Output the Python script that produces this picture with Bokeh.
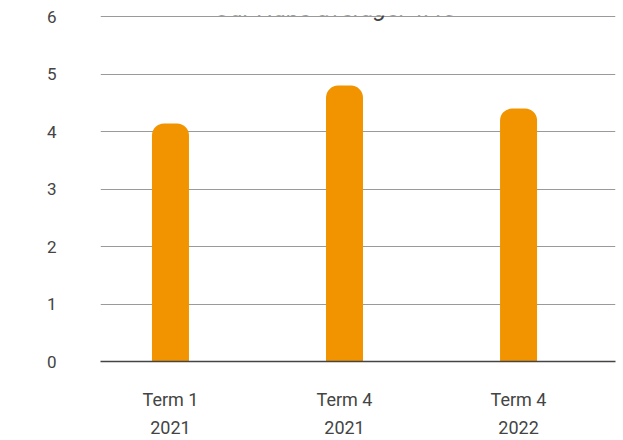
from bokeh.plotting import figure
from bokeh.models import ColumnDataSource, Range1d, FixedTicker, Label
from bokeh.embed import file_html
from bokeh.resources import INLINE

categories = ["Term 1\n2021", "Term 4\n2021", "Term 4\n2022"]
scores = [4.14, 4.80, 4.40]
y_ticks = [0, 1, 2, 3, 4, 5, 6]
subtitle = "Our Hubs average: 4.45"

xs = list(range(len(categories)))
src = ColumnDataSource(dict(x=xs, top=scores))

p = figure(width=623, height=440, output_backend="svg", toolbar_location=None,
           x_range=Range1d(-0.402, 2.557), y_range=Range1d(0, 6.02),
           min_border_left=100, min_border_right=8, min_border_top=15, min_border_bottom=78)
p.outline_line_color = None
p.background_fill_color = "white"
p.border_fill_color = "white"

p.vbar(x="x", top="top", bottom=0, width=37 / 174, source=src,
       fill_color="#F29300", line_color=None, border_radius=(12, 12, 0, 0))

p.yaxis.ticker = FixedTicker(ticks=y_ticks)
p.ygrid.ticker = FixedTicker(ticks=y_ticks[1:])
p.ygrid.grid_line_color = "#9a9a9a"
p.ygrid.grid_line_width = 1
p.xgrid.grid_line_color = None
p.yaxis.axis_line_color = None
p.yaxis.major_tick_line_color = None
p.yaxis.minor_tick_line_color = None
p.yaxis.major_label_text_font = "Roboto"
p.yaxis.major_label_text_font_size = "17px"
p.yaxis.major_label_text_color = "#444444"
p.yaxis.major_label_standoff = 38

p.xaxis.ticker = FixedTicker(ticks=xs)
p.xaxis.major_label_overrides = {i: c for i, c in enumerate(categories)}
p.xaxis.axis_line_color = "#444444"
p.xaxis.axis_line_width = 1.5
p.xaxis.major_tick_line_color = None
p.xaxis.minor_tick_line_color = None
p.xaxis.major_label_text_font = "Roboto"
p.xaxis.major_label_text_font_size = "18px"
p.xaxis.major_label_text_color = "#444444"
p.xaxis.major_label_standoff = 21
p.xaxis.major_label_text_line_height = 1.35

lab = Label(x=235, y=354, x_units="screen", y_units="screen", text=subtitle,
            text_font="Roboto", text_font_style="italic", text_font_size="24px",
            text_color="#444444", text_align="center", text_baseline="alphabetic")
p.add_layout(lab)

open("out.html", "w").write(file_html(p, INLINE))
